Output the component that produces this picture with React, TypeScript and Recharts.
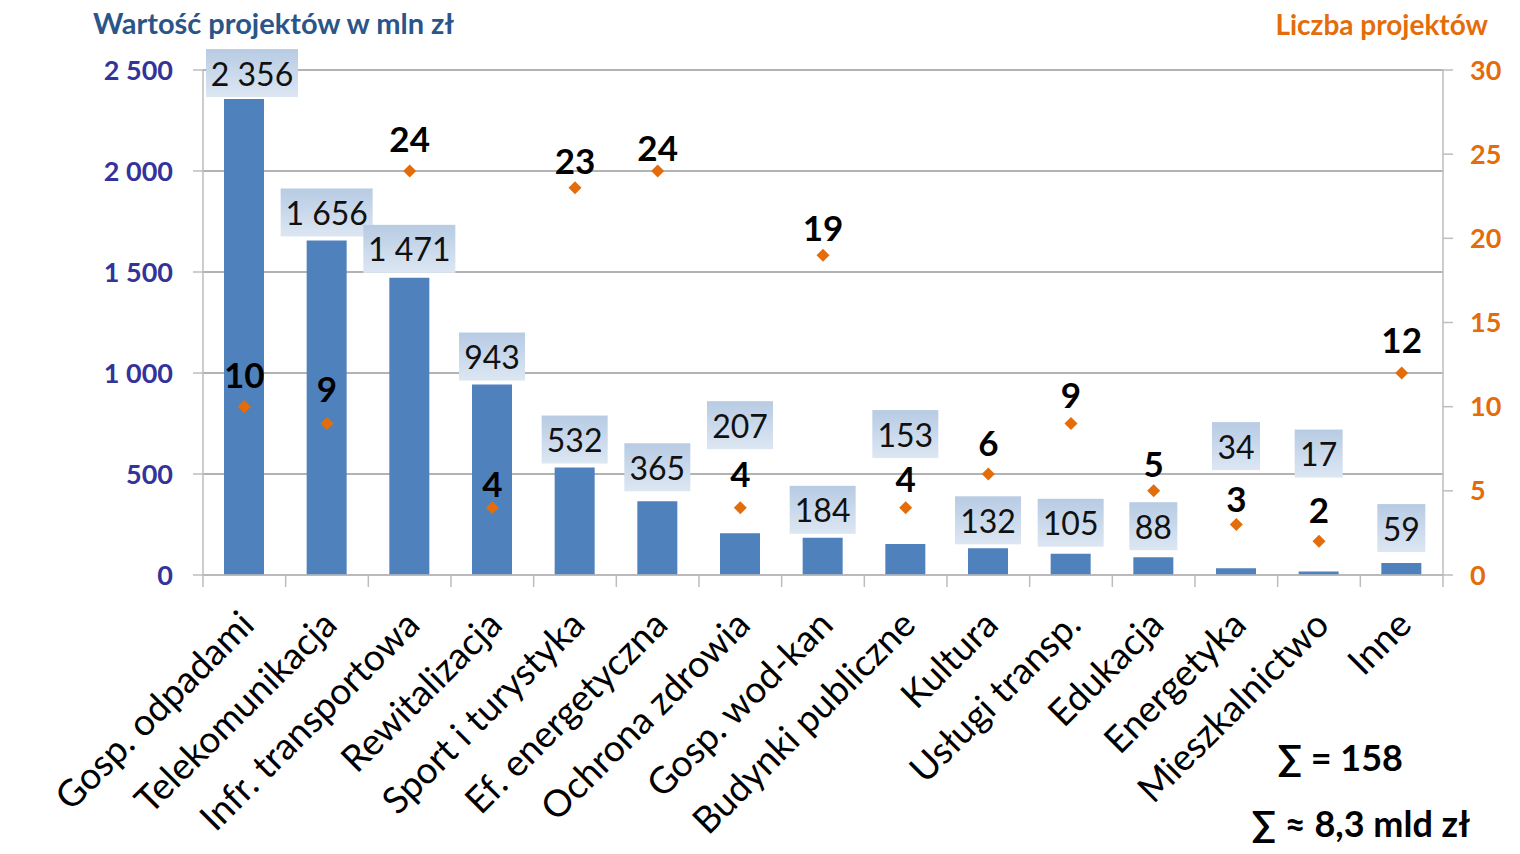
import React from 'react';
import { ComposedChart, Bar, Line, XAxis, YAxis, CartesianGrid, LabelList } from 'recharts';

// Project categories and their totals
const categories = [
  'Gosp. odpadami',
  'Telekomunikacja',
  'Infr. transportowa',
  'Rewitalizacja',
  'Sport i turystyka',
  'Ef. energetyczna',
  'Ochrona zdrowia',
  'Gosp. wod-kan',
  'Budynki publiczne',
  'Kultura',
  'Usługi transp.',
  'Edukacja',
  'Energetyka',
  'Mieszkalnictwo',
  'Inne',
];
// Value of projects, mln zł
const projectValues = [2356, 1656, 1471, 943, 532, 365, 207, 184, 153, 132, 105, 88, 34, 17, 59];
// Number of projects
const projectCounts = [10, 9, 24, 4, 23, 24, 4, 19, 4, 6, 9, 5, 3, 2, 12];

const valueTicks = [0, 500, 1000, 1500, 2000, 2500];
const countTicks = [0, 5, 10, 15, 20, 25, 30];

// How far (px) each value box sits above its bar, so boxes clear the count labels
const valueLabelLift = [26, 28, 29, 28, 28, 34, 108, 28, 110, 28, 31, 31, 122, 118, 35];
// Small horizontal nudges (px) of the value boxes
const valueLabelShift = [8, 0, 0, 0, 0, 0, 0, 0, 0, 0, 0, 0, 0, 0, 0];
// How far (px) each count label sits above its marker
const countLabelLift = [33, 36, 33, 25, 28, 24, 35, 28, 30, 32, 30, 28, 27, 32, 34];

const FONT = 'Lato, "Open Sans", "Liberation Sans", sans-serif';
const BAR_BLUE = '#4f81bd';
const ORANGE = '#e46c0a';
const AXIS_BLUE = '#33339a';
const TITLE_BLUE = '#2a5589';
const GRID = '#9a9a9a';
const AXIS_LINE = '#bdbdbd';

const data = categories.map((name, i) => ({
  name,
  value: projectValues[i],
  count: projectCounts[i],
}));

const formatThousands = (n: number) =>
  String(n).replace(/\B(?=(\d{3})+(?!\d))/g, ' ');

const ValueBox = (props: any) => {
  const { x, y, width, value, index } = props;
  const i = index ?? 0;
  const text = formatThousands(Number(value));
  const digits = text.replace(/\s/g, '').length;
  const spaces = text.length - digits;
  const w = digits * 18 + spaces * 8 + 12;
  const h = 48;
  const cx = Number(x) + Number(width) / 2 + valueLabelShift[i];
  const cy = Number(y) - valueLabelLift[i];
  return (
    <g>
      <rect x={cx - w / 2} y={cy - h / 2} width={w} height={h} fill="url(#boxGrad)" />
      <text
        x={cx}
        y={cy}
        textAnchor="middle"
        dominantBaseline="central"
        fontFamily={FONT}
        fontSize={32}
        fill="#111"
      >
        {text}
      </text>
    </g>
  );
};

const CountLabel = (props: any) => {
  const { x, y, value, index } = props;
  const i = index ?? 0;
  return (
    <text
      x={x}
      y={Number(y) - countLabelLift[i]}
      textAnchor="middle"
      dominantBaseline="central"
      fontFamily={FONT}
      fontWeight={700}
      fontSize={35}
      fill="#000"
    >
      {value}
    </text>
  );
};

const Diamond = (props: any) => {
  const { cx, cy, index } = props;
  const r = 6.5;
  return (
    <path
      key={`d-${index}`}
      d={`M${cx},${cy - r} L${cx + r},${cy} L${cx},${cy + r} L${cx - r},${cy} Z`}
      fill={ORANGE}
    />
  );
};

const CategoryTick = (props: any) => {
  const { x, y, payload, index } = props;
  const half = payload && payload.offset ? payload.offset : 41.33;
  const isLast = index === categories.length - 1;
  return (
    <g>
      <line x1={x - half} x2={x - half} y1={y} y2={y + 12} stroke={AXIS_LINE} strokeWidth={1.5} />
      {isLast && (
        <line x1={x + half} x2={x + half} y1={y} y2={y + 12} stroke={AXIS_LINE} strokeWidth={1.5} />
      )}
      <g transform={`translate(${x + 12},${y + 52}) rotate(-45)`}>
        <text textAnchor="end" fontFamily={FONT} fontSize={37} fill="#000">
          {payload.value}
        </text>
      </g>
    </g>
  );
};

export default function App() {
  return (
    <div style={{ position: 'absolute', left: 0, top: 0, width: 1520, height: 854, background: '#fff' }}>
      <ComposedChart
        width={1520}
        height={854}
        data={data}
        margin={{ top: 70, right: 0, bottom: 0, left: 0 }}
      >
        <defs>
          <linearGradient id="boxGrad" x1="0" y1="0" x2="0" y2="1">
            <stop offset="0%" stopColor="#b7cbe3" />
            <stop offset="100%" stopColor="#dde7f3" />
          </linearGradient>
        </defs>
        <CartesianGrid vertical={false} stroke={GRID} strokeWidth={1.5} yAxisId="left" />
        <XAxis
          dataKey="name"
          height={279}
          interval={0}
          tickLine={false}
          tickSize={0}
          tickMargin={0}
          axisLine={{ stroke: AXIS_LINE, strokeWidth: 1.5 }}
          tick={<CategoryTick />}
        />
        <YAxis
          yAxisId="left"
          width={203}
          domain={[0, 2500]}
          ticks={valueTicks}
          tickFormatter={(v: number) => formatThousands(v)}
          tickSize={10}
          tickMargin={20}
          tickLine={{ stroke: AXIS_LINE, strokeWidth: 1.5 }}
          axisLine={{ stroke: AXIS_LINE, strokeWidth: 1.5 }}
          tick={{ fill: AXIS_BLUE, fontSize: 27, fontWeight: 700, fontFamily: FONT }}
        />
        <YAxis
          yAxisId="right"
          orientation="right"
          width={77}
          domain={[0, 30]}
          ticks={countTicks}
          tickSize={10}
          tickMargin={17}
          tickLine={{ stroke: AXIS_LINE, strokeWidth: 1.5 }}
          axisLine={{ stroke: AXIS_LINE, strokeWidth: 1.5 }}
          tick={{ fill: ORANGE, fontSize: 27, fontWeight: 700, fontFamily: FONT, textAnchor: 'start' }}
        />
        <Bar yAxisId="left" dataKey="value" fill={BAR_BLUE} barSize={40} isAnimationActive={false}>
          <LabelList dataKey="value" content={<ValueBox />} />
        </Bar>
        <Line
          yAxisId="right"
          dataKey="count"
          stroke="none"
          dot={<Diamond />}
          activeDot={false}
          isAnimationActive={false}
        >
          <LabelList dataKey="count" content={<CountLabel />} />
        </Line>
        <text x={93} y={34} fontFamily={FONT} fontWeight={700} fontSize={29} fill={TITLE_BLUE}>
          Wartość projektów w mln zł
        </text>
        <text x={1488} y={35} textAnchor="end" fontFamily={FONT} fontWeight={700} fontSize={28} fill={ORANGE}>
          Liczba projektów
        </text>
        <text x={1403} y={771} textAnchor="end" fontFamily={FONT} fontWeight={700} fontSize={36} fill="#000">
          ∑ = 158
        </text>
        <text x={1470} y={837} textAnchor="end" fontFamily={FONT} fontWeight={700} fontSize={36} fill="#000">
          ∑ ≈ 8,3 mld zł
        </text>
      </ComposedChart>
    </div>
  );
}
